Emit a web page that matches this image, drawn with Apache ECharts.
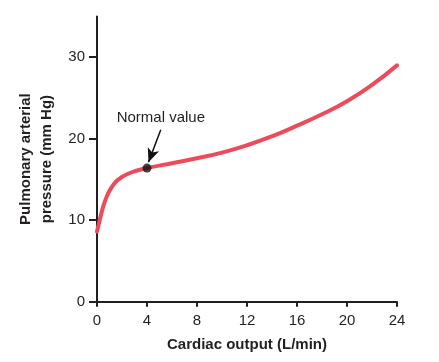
<!DOCTYPE html>
<html>
<head>
<meta charset="utf-8">
<script src="https://cdn.jsdelivr.net/npm/echarts@6/dist/echarts.min.js"></script>
<style>
html,body{margin:0;padding:0;background:#fff;}
#chart{width:439px;height:362px;}
</style>
</head>
<body>
<div id="chart"></div>
<script>
// Data
var cardiacOutput = [0, 0.25, 0.5, 0.75, 1, 1.5, 2, 2.5, 3, 4, 6, 8, 10, 12, 14, 16, 18, 20, 22, 24];
var pressure      = [8.6, 10.2, 11.7, 12.8, 13.6, 14.7, 15.3, 15.7, 16.0, 16.4, 17.0, 17.6, 18.3, 19.2, 20.3, 21.6, 23.0, 24.6, 26.6, 29.0];
var normalPoint = [4, 16.4];
var annotationText = 'Normal value';
var annotationPos = [5.15, 22.5];
var arrowFrom = [5.1, 21.1];
var arrowTo = [4.12, 17.1];
var xTicks = [0, 4, 8, 12, 16, 20, 24];
var yTicks = [0, 10, 20, 30];

var font = "'Liberation Sans', Arial, Helvetica, sans-serif";
var ink = '#231f20';

var lineData = cardiacOutput.map(function (x, i) { return [x, pressure[i]]; });

var chart = echarts.init(document.getElementById('chart'), null, {renderer: 'canvas'});
chart.setOption({
  animation: false,
  backgroundColor: '#fff',
  grid: {left: 97, right: 42, top: 16.5, bottom: 60.3, containLabel: false},
  xAxis: {
    type: 'value', min: 0, max: 24, interval: 4,
    name: 'Cardiac output (L/min)', nameLocation: 'middle', nameGap: 36, nameMoveOverlap: false,
    nameTextStyle: {fontFamily: font, fontSize: 15, fontWeight: 'bold', color: ink},
    axisLine: {show: true, lineStyle: {color: ink, width: 2}},
    axisTick: {show: true, length: 5, lineStyle: {color: ink, width: 2}, customValues: xTicks},
    axisLabel: {fontFamily: font, fontSize: 15, color: ink, margin: 12, customValues: xTicks},
    splitLine: {show: false}
  },
  yAxis: {
    type: 'value', min: 0, max: 35, interval: 10,
    name: 'Pulmonary arterial\npressure (mm Hg)', nameLocation: 'middle', nameGap: 40, nameRotate: 90,
    nameMoveOverlap: false,
    nameTextStyle: {fontFamily: font, fontSize: 15, fontWeight: 'bold', color: ink, lineHeight: 21},
    axisLine: {show: true, onZero: false, lineStyle: {color: ink, width: 2}},
    axisTick: {show: true, length: 8, lineStyle: {color: ink, width: 2}, customValues: yTicks},
    axisLabel: {fontFamily: font, fontSize: 15, color: ink, margin: 12, customValues: yTicks},
    splitLine: {show: false}
  },
  series: [
    {
      type: 'line', data: lineData, smooth: 0.5, showSymbol: false, symbol: 'none',
      lineStyle: {color: '#ec4b5b', width: 4, cap: 'round'},
      z: 2,
      markLine: {
        silent: true, symbol: ['none', 'arrow'], symbolSize: [9, 14],
        lineStyle: {color: '#111', width: 1.5, type: 'solid'},
        label: {show: false},
        data: [[{coord: arrowFrom}, {coord: arrowTo}]]
      }
    },
    {
      type: 'scatter', data: [normalPoint], symbolSize: 9,
      itemStyle: {color: '#111'}, z: 5
    },
    {
      type: 'scatter', data: [annotationPos], symbolSize: 1,
      itemStyle: {opacity: 0},
      label: {show: true, position: [0, 0], align: 'center', verticalAlign: 'middle',
        formatter: annotationText, fontFamily: font, fontSize: 15, color: ink, opacity: 1}
    }
  ]
});
</script>
</body>
</html>
